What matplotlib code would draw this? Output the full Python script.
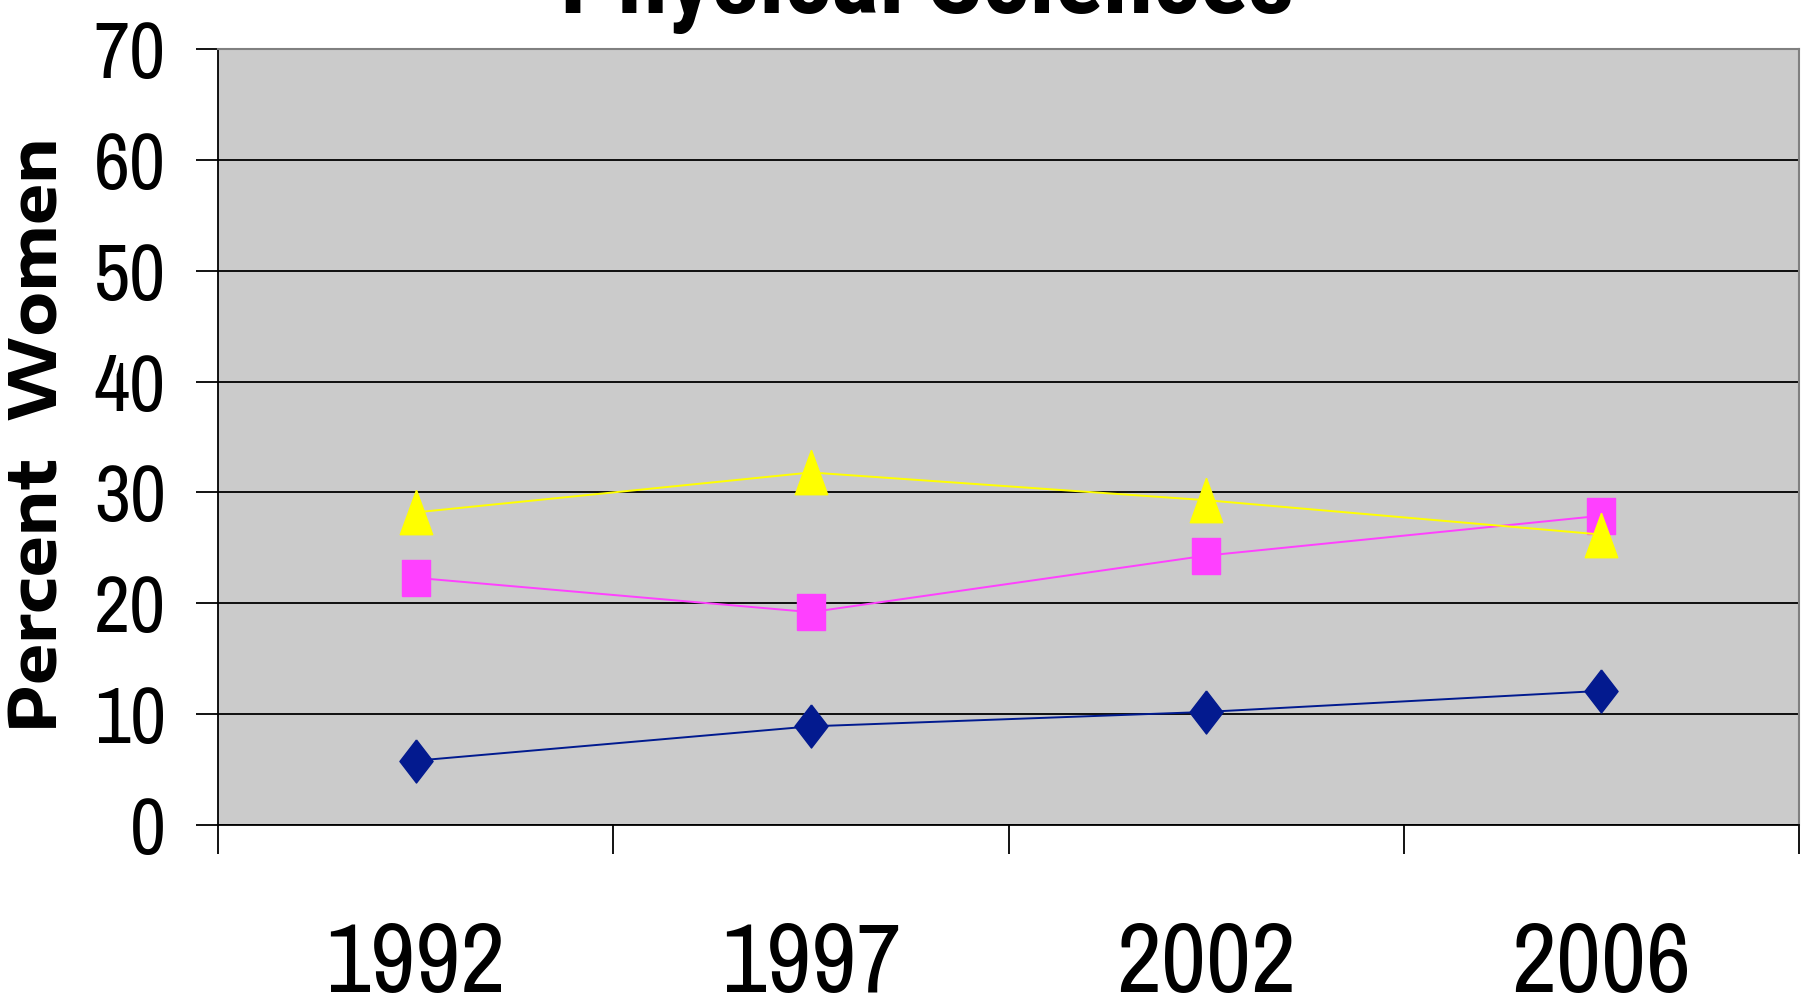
import matplotlib
matplotlib.use("Agg")
import matplotlib.pyplot as plt
import numpy as np

years = ["1992", "1997", "2002", "2006"]
blue_vals = [5.8, 8.9, 10.2, 12.1]
pink_vals = [22.3, 19.2, 24.3, 27.9]
yellow_vals = [28.2, 31.8, 29.3, 26.2]
y_ticks = [0, 10, 20, 30, 40, 50, 60, 70]

narrow = ["Archivo Narrow", "DejaVu Sans"]
narrow_bold = ["Roboto Condensed", "DejaVu Sans"]
wide_bold = ["Encode Sans Expanded", "DejaVu Sans"]

# tall, slightly squeezed marker shapes
diamond = [(0, 1), (0.77, 0), (0, -1), (-0.77, 0), (0, 1)]
square = [(-0.75, -1), (0.75, -1), (0.75, 1), (-0.75, 1), (-0.75, -1)]
triangle = [(0, 1), (0.73, -1), (-0.73, -1), (0, 1)]

fig = plt.figure(figsize=(18.09, 10.08), dpi=100)
ax = fig.add_axes([218 / 1809, 1 - 825 / 1008, (1799 - 218) / 1809, (825 - 49) / 1008])
ax.set_facecolor("#CBCBCB")

x = np.arange(len(years))
ax.plot(x, blue_vals, color="#001A8F", lw=1.4, marker=diamond, ms=31,
        mfc="#031A8F", mec="#031A8F", zorder=3)
ax.plot(x, pink_vals, color="#FF40FF", lw=1.4, marker=square, ms=26,
        mfc="#FF40FF", mec="#FF40FF", zorder=3)
ax.plot(x, yellow_vals, color="#FFFF00", lw=1.4, marker=triangle, ms=32,
        mfc="#FFFF00", mec="#FFFF00", zorder=3)

ax.set_xlim(-0.5, len(years) - 0.5)
ax.set_ylim(0, 70)
ax.set_yticks(y_ticks)
ax.set_yticklabels([str(v) for v in y_ticks], family=narrow, fontsize=57)
ax.set_xticks(x)
ax.set_xticklabels(years, family=narrow, fontsize=71)
ax.set_xticks(np.arange(-0.5, len(years)), minor=True)

ax.tick_params(axis="y", length=15.5, width=1.3, pad=22, color="black")
ax.tick_params(axis="x", which="major", length=0, pad=69)
ax.tick_params(axis="x", which="minor", length=21, width=1.3, color="black")

ax.set_axisbelow(True)
ax.yaxis.grid(True, color="black", lw=1.3)
for side in ["left", "bottom"]:
    ax.spines[side].set_color("black")
    ax.spines[side].set_linewidth(1.3)
for side in ["top", "right"]:
    ax.spines[side].set_color("#808080")
    ax.spines[side].set_linewidth(1.5)

fig.text(927 / 1809, 1 - 13 / 1008, "Physical Sciences", family=narrow_bold,
         weight="bold", fontsize=73, ha="center", va="baseline")
fig.text(39 / 1809, 1 - 435 / 1008, "Percent  Women", family=wide_bold,
         weight="bold", fontsize=47, rotation=90, ha="center", va="center")

fig.savefig("out.png")
